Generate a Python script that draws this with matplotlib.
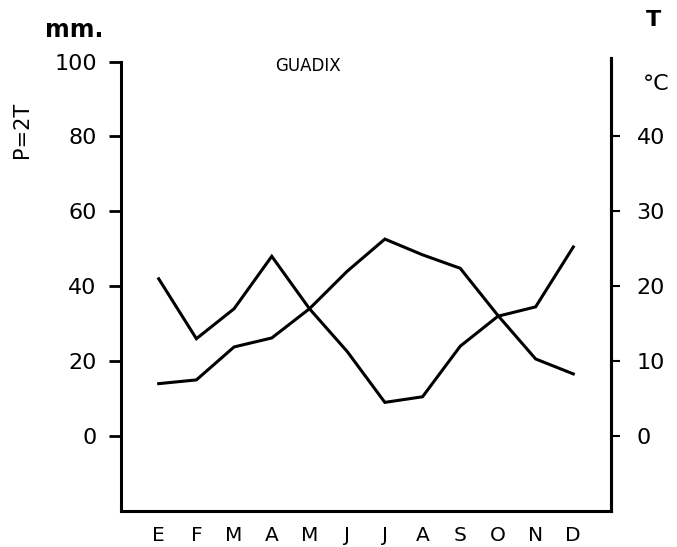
import numpy as np
import matplotlib.pyplot as plt

plt.rcParams.update({
    "font.family": "DejaVu Sans",
    "font.size": 16,
})

# ---------------- data ----------------
months = ["E", "F", "M", "A", "M", "J", "J", "A", "S", "O", "N", "D"]
precip_mm = [42, 26, 34, 48, 34, 22.6, 9, 10.5, 24, 32, 34.5, 50.5]
temp_c = [7, 7.5, 11.9, 13.1, 17, 22, 26.3, 24.2, 22.4, 16.1, 10.3, 8.3]

left_ticks = [0, 20, 40, 60, 80, 100]
right_ticks = [0, 10, 20, 30, 40]

# ---------------- plot ----------------
fig = plt.figure(figsize=(6.77, 5.47), dpi=100)
ax = fig.add_axes([121 / 677, 36 / 547, 490 / 677, 453.2 / 547])

x = np.arange(len(months))
lw = 2.2
ax.plot(x, precip_mm, color="black", lw=lw, solid_joinstyle="miter")
ax.plot(x, [2 * t for t in temp_c], color="black", lw=lw, solid_joinstyle="miter")

ax.set_xlim(-1, 12)
ax.set_ylim(-20, 101)

ax.spines["top"].set_visible(False)
for s in ["left", "right", "bottom"]:
    ax.spines[s].set_linewidth(2.2)
ax.spines["left"].set_bounds(-20, 100)

ax.set_xticks(x)
ax.set_xticklabels(months, fontsize=14.5)
ax.tick_params(axis="x", length=0, pad=11)
ax.set_yticks(left_ticks)
ax.set_yticklabels([str(v) for v in left_ticks])
ax.tick_params(axis="y", direction="out", length=8.5, width=2, pad=9)

ax2 = ax.twinx()
ax2.set_ylim(-10, 50.5)
for s in ["top", "left", "bottom"]:
    ax2.spines[s].set_visible(False)
ax2.spines["right"].set_linewidth(2.2)
ax2.set_yticks(right_ticks)
ax2.set_yticklabels([str(v) for v in right_ticks])
ax2.tick_params(axis="y", direction="out", length=6.5, width=1.5, pad=12)

fig.text(45 / 677, 1 - 30 / 547, "mm.", fontsize=17, fontweight="bold", ha="left", va="center")
fig.text(22 / 677, 1 - 130 / 547, "P=2T", fontsize=15, rotation=90, ha="center", va="center")
fig.text(654 / 677, 1 - 20 / 547, "T", fontsize=16, fontweight="bold", ha="center", va="center")
fig.text(656 / 677, 1 - 84 / 547, "°C", fontsize=16, ha="center", va="center")
ax.text(3.95, 98.8, "GUADIX", fontsize=12, ha="center", va="center")

fig.savefig("out.png", dpi=100)
